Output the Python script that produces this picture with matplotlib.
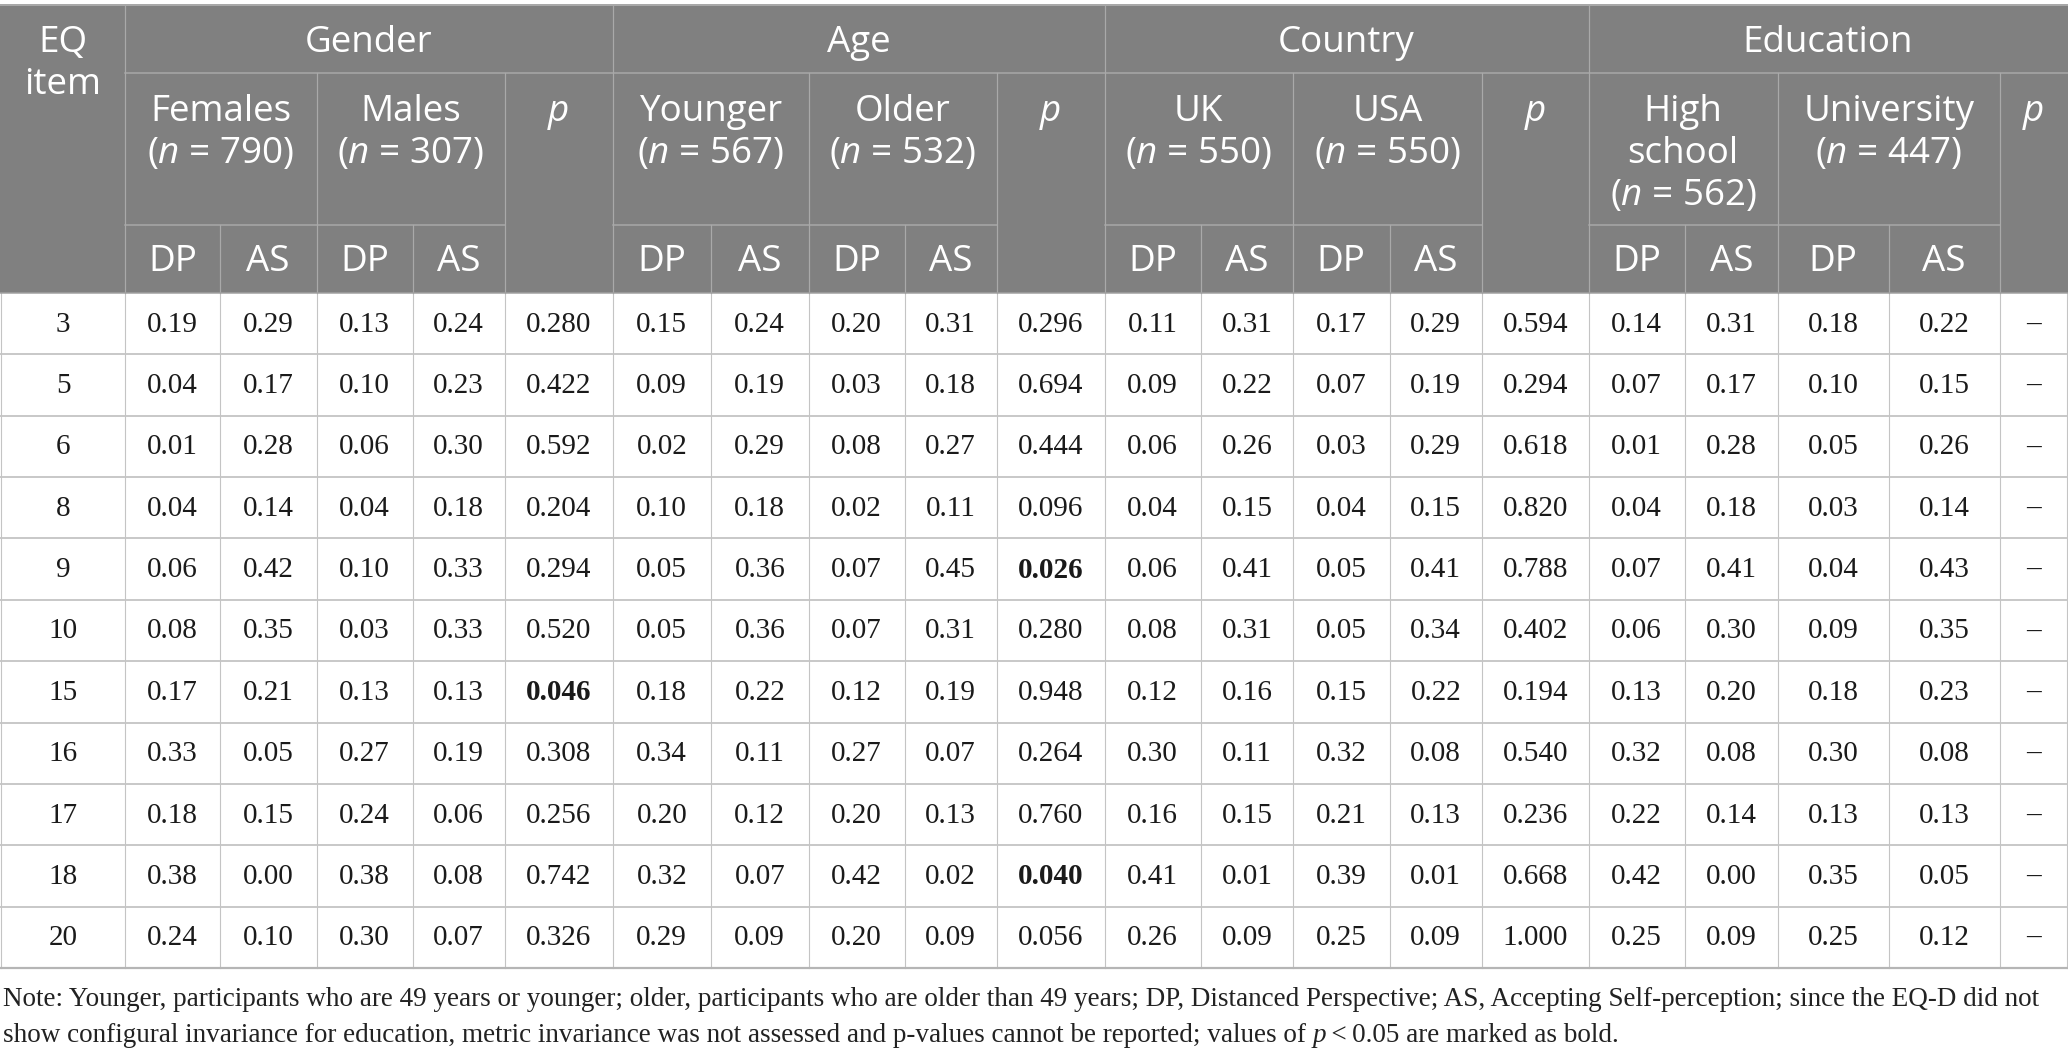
import matplotlib
matplotlib.use("Agg")
import matplotlib.pyplot as plt

plt.rcParams['mathtext.fontset'] = 'custom'
plt.rcParams['mathtext.rm'] = 'Open Sans'
plt.rcParams['mathtext.it'] = 'Open Sans:italic'

# ---------------- data ----------------
eq_items = ["3", "5", "6", "8", "9", "10", "15", "16", "17", "18", "20"]

females_dp = [0.19, 0.04, 0.01, 0.04, 0.06, 0.08, 0.17, 0.33, 0.18, 0.38, 0.24]
females_as = [0.29, 0.17, 0.28, 0.14, 0.42, 0.35, 0.21, 0.05, 0.15, 0.00, 0.10]
males_dp = [0.13, 0.10, 0.06, 0.04, 0.10, 0.03, 0.13, 0.27, 0.24, 0.38, 0.30]
males_as = [0.24, 0.23, 0.30, 0.18, 0.33, 0.33, 0.13, 0.19, 0.06, 0.08, 0.07]
gender_p = [0.280, 0.422, 0.592, 0.204, 0.294, 0.520, 0.046, 0.308, 0.256, 0.742, 0.326]

younger_dp = [0.15, 0.09, 0.02, 0.10, 0.05, 0.05, 0.18, 0.34, 0.20, 0.32, 0.29]
younger_as = [0.24, 0.19, 0.29, 0.18, 0.36, 0.36, 0.22, 0.11, 0.12, 0.07, 0.09]
older_dp = [0.20, 0.03, 0.08, 0.02, 0.07, 0.07, 0.12, 0.27, 0.20, 0.42, 0.20]
older_as = [0.31, 0.18, 0.27, 0.11, 0.45, 0.31, 0.19, 0.07, 0.13, 0.02, 0.09]
age_p = [0.296, 0.694, 0.444, 0.096, 0.026, 0.280, 0.948, 0.264, 0.760, 0.040, 0.056]

uk_dp = [0.11, 0.09, 0.06, 0.04, 0.06, 0.08, 0.12, 0.30, 0.16, 0.41, 0.26]
uk_as = [0.31, 0.22, 0.26, 0.15, 0.41, 0.31, 0.16, 0.11, 0.15, 0.01, 0.09]
usa_dp = [0.17, 0.07, 0.03, 0.04, 0.05, 0.05, 0.15, 0.32, 0.21, 0.39, 0.25]
usa_as = [0.29, 0.19, 0.29, 0.15, 0.41, 0.34, 0.22, 0.08, 0.13, 0.01, 0.09]
country_p = [0.594, 0.294, 0.618, 0.820, 0.788, 0.402, 0.194, 0.540, 0.236, 0.668, 1.000]

hs_dp = [0.14, 0.07, 0.01, 0.04, 0.07, 0.06, 0.13, 0.32, 0.22, 0.42, 0.25]
hs_as = [0.31, 0.17, 0.28, 0.18, 0.41, 0.30, 0.20, 0.08, 0.14, 0.00, 0.09]
uni_dp = [0.18, 0.10, 0.05, 0.03, 0.04, 0.09, 0.18, 0.30, 0.13, 0.35, 0.25]
uni_as = [0.22, 0.15, 0.26, 0.14, 0.43, 0.35, 0.23, 0.08, 0.13, 0.05, 0.12]
education_p = [None] * 11

groups = ["Gender", "Age", "Country", "Education"]
subgroups = [
    [["Females", "($n$ = 790)"], ["Males", "($n$ = 307)"]],
    [["Younger", "($n$ = 567)"], ["Older", "($n$ = 532)"]],
    [["UK", "($n$ = 550)"], ["USA", "($n$ = 550)"]],
    [["High", "school", "($n$ = 562)"], ["University", "($n$ = 447)"]],
]
note_line1 = ("Note: Younger, participants who are 49 years or younger; older, participants who are older "
              "than 49 years; DP, Distanced Perspective; AS, Accepting Self-perception; since the EQ-D did not")
note_line2_parts = [
    ("show configural invariance for education, metric invariance was not assessed and p-values "
     "cannot be reported; values of ", "normal"),
    ("p", "italic"),
    ("\u2009<\u20090.05 are marked as bold.", "normal"),
]

columns = [
    (females_dp, 2), (females_as, 2), (males_dp, 2), (males_as, 2), (gender_p, 3),
    (younger_dp, 2), (younger_as, 2), (older_dp, 2), (older_as, 2), (age_p, 3),
    (uk_dp, 2), (uk_as, 2), (usa_dp, 2), (usa_as, 2), (country_p, 3),
    (hs_dp, 2), (hs_as, 2), (uni_dp, 2), (uni_as, 2), (education_p, 3),
]

# ---------------- layout ----------------
W, H = 2068, 1058
fig = plt.figure(figsize=(W / 100, H / 100), dpi=100)
ax = fig.add_axes([0, 0, 1, 1])
ax.set_xlim(0, W)
ax.set_ylim(H, 0)
ax.axis('off')

xb = [1, 125, 220, 316.5, 412.5, 504.5, 612.5, 711, 808.5, 904.5, 996.5, 1104.5,
      1201, 1293, 1389.5, 1482, 1588.5, 1685, 1777.5, 1888.5, 2000, 2067]
y_top, y_grp, y_sub, y_head = 5, 73, 225, 293
y_bot = 968
nrows = len(eq_items)
rh = (y_bot - y_head) / nrows

HEAD_BG = '#808080'
HEAD_LINE = '#a9a9a9'
BODY_LINE = '#c4c4c4'
HFONT = 'Open Sans'
BFONT = 'Liberation Serif'
HSIZE = 26.5
BSIZE = 21
px = 0.72  # 1 pixel in points

# header background
ax.add_patch(plt.Rectangle((0, y_top), W, y_head - y_top, facecolor=HEAD_BG, edgecolor='none', zorder=0))
ax.plot([0, W], [y_top, y_top], color='#a8a8a8', lw=2 * px, zorder=2)

# header lines
ax.plot([xb[1], W], [y_grp, y_grp], color=HEAD_LINE, lw=1.5 * px, zorder=2)
for g in range(4):
    base = 1 + 5 * g
    ax.plot([xb[base], xb[base + 4]], [y_sub, y_sub], color=HEAD_LINE, lw=1.5 * px, zorder=2)
    for k in (2, 4):
        ax.plot([xb[base + k], xb[base + k]], [y_grp, y_head], color=HEAD_LINE, lw=1.2 * px, zorder=2)
    for k in (1, 3):
        ax.plot([xb[base + k], xb[base + k]], [y_sub, y_head], color=HEAD_LINE, lw=1.2 * px, zorder=2)
for xi in [xb[1], xb[6], xb[11], xb[16]]:
    ax.plot([xi, xi], [y_top, y_head], color=HEAD_LINE, lw=1.2 * px, zorder=2)
ax.plot([0, W], [y_head, y_head], color='#a0a0a0', lw=1.5 * px, zorder=3)

# header texts
hkw = dict(color='white', fontfamily=HFONT, fontsize=HSIZE, ha='center', va='center', zorder=4)
ax.text((xb[0] + xb[1]) / 2, 43, "EQ", **hkw)
ax.text((xb[0] + xb[1]) / 2, 85, "item", **hkw)
line_step = 42
for g, gname in enumerate(groups):
    base = 1 + 5 * g
    ax.text((xb[base] + xb[base + 5]) / 2, 43, gname, **hkw)
    for s in range(2):
        x0, x1 = xb[base + 2 * s], xb[base + 2 * s + 2]
        for li, line in enumerate(subgroups[g][s]):
            ax.text((x0 + x1) / 2, 112 + li * line_step, line, **hkw)
        ax.text((x0 + xb[base + 2 * s + 1]) / 2, (y_sub + y_head) / 2 + 3, "DP", **hkw)
        ax.text((xb[base + 2 * s + 1] + x1) / 2, (y_sub + y_head) / 2 + 3, "AS", **hkw)
    ax.text((xb[base + 4] + xb[base + 5]) / 2, 112, "p", style='italic', **hkw)

# body grid
for r in range(1, nrows + 1):
    yy = y_head + r * rh
    lw = 2.2 if r == nrows else 1.8
    col = '#b5b5b5' if r == nrows else BODY_LINE
    ax.plot([0, W], [yy, yy], color=col, lw=lw * px, zorder=2)
for xi in xb:
    ax.plot([xi, xi], [y_head, y_bot], color=BODY_LINE, lw=1.1 * px, zorder=1)

# body texts
bkw = dict(color='#1a1a1a', fontfamily=BFONT, fontsize=BSIZE, ha='center', va='center', zorder=4)
for r in range(nrows):
    yc = y_head + (r + 0.5) * rh + 1
    ax.text((xb[0] + xb[1]) / 2, yc, eq_items[r], **bkw)
    for c, (vals, dec) in enumerate(columns):
        xc = (xb[c + 1] + xb[c + 2]) / 2
        v = vals[r]
        if v is None:
            ax.text(xc, yc, "\u2013", **bkw)
        else:
            bold = (dec == 3 and v < 0.05)
            ax.text(xc, yc, f"{v:.{dec}f}", fontweight='bold' if bold else 'normal', **bkw)

# note
NSIZE = 19.5
nkw = dict(color='#222222', fontfamily=BFONT, fontsize=NSIZE, ha='left', va='center')
ax.text(3, 999, note_line1, **nkw)
fig.canvas.draw()
renderer = fig.canvas.get_renderer()
xcur = 3
inv = ax.transData.inverted()
for txt, st in note_line2_parts:
    t = ax.text(xcur, 1036, txt, style=st, **nkw)
    bb = t.get_window_extent(renderer=renderer)
    xcur = inv.transform((bb.x1, bb.y0))[0]

fig.savefig("out.png", dpi=100)
